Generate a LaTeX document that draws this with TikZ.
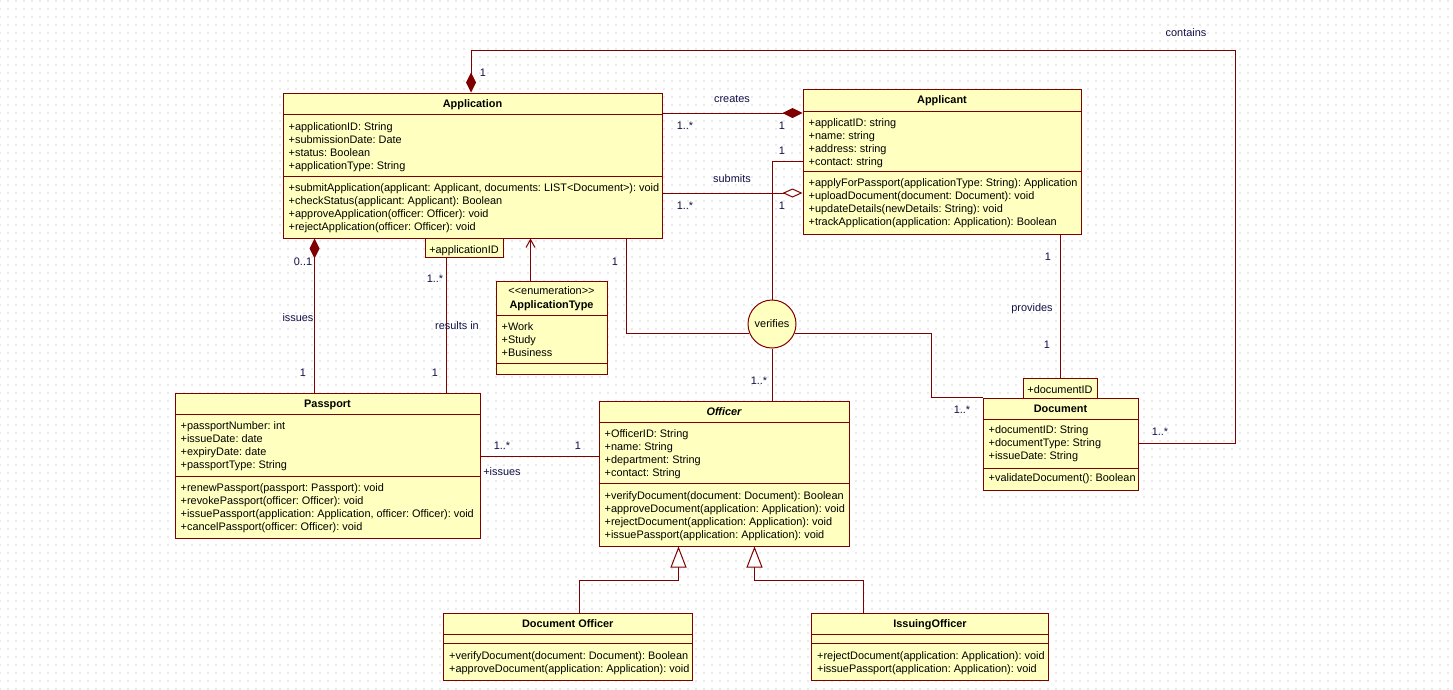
\documentclass[tikz,border=0pt]{standalone}
\usepackage{fontspec}
\setmainfont{Liberation Sans}
\usetikzlibrary{arrows.meta,calc,fit,patterns.meta}
\frenchspacing

\definecolor{umlborder}{RGB}{128,0,0}
\definecolor{umlfill}{RGB}{255,255,192}
\definecolor{umllabel}{RGB}{16,16,72}
\definecolor{griddot}{RGB}{165,165,165}

\newcommand\umlfont{\fontsize{10.9}{13}\selectfont}

\tikzset{
  cls/.style={rectangle, draw=umlborder, fill=umlfill, line width=1pt, inner sep=0pt},
  sepline/.style={draw=umlborder, line width=1pt},
  clstitle/.style={font=\umlfont\bfseries, anchor=base, inner sep=0pt},
  member/.style={font=\umlfont, anchor=base west, inner sep=0pt, text=black},
  lbl/.style={font=\umlfont, text=umllabel, inner sep=0pt, text height=8pt, text depth=2pt},
  assoc/.style={draw=umlborder, line width=1pt},
  composition/.style={assoc, -{Diamond[length=20pt,width=10pt]}},
  aggregation/.style={assoc, -{Diamond[length=20pt,width=9pt,fill=white]}},
  generalization/.style={assoc, -{Triangle[length=21pt,width=16pt,fill=white]}},
  navigable/.style={assoc, -{Straight Barb[length=8pt,width=9pt]}},
}

% class box: name, x1, y1, x2, y2, title separator offset, attribute separator offset, title
\newcommand\umlclass[8]{%
  \node[cls, fit={(#2,#3) (#4,#5)}] (#1) {};
  \draw[sepline] ($(#1.north west)+(0,#6)$) -- ($(#1.north east)+(0,#6)$);
  \draw[sepline] ($(#1.north west)+(0,#7)$) -- ($(#1.north east)+(0,#7)$);
  \node[clstitle] (#1-title) at ($(#1.north)+(0,15.3)$) {#8};
}
% compartment lines: class, name prefix, first baseline offset, list of lines
\newcommand\classmembers[4]{%
  \foreach \m [count=\i] in {#4}{
    \node[member] (#2\i) at ($(#1.north west)+(6,{#3+0.8+13*(\i-1)})$) {\m};
  }
}

\begin{document}
\begin{tikzpicture}[x=1pt,y=-1pt]
\useasboundingbox (0,0) rectangle (1453,689);
\fill[white] (0,0) rectangle (1453,689);
\fill[pattern={Dots[distance=8pt,radius=0.55pt]}, pattern color=griddot] (0,0) rectangle (1453,689);

% ---------- classes ----------
\umlclass{app}{283}{93}{662}{238}{22}{84}{Application}
\classmembers{app}{app-a}{37}{+applicationID: String, +submissionDate: Date, +status: Boolean, +applicationType: String}
\classmembers{app}{app-m}{98}{{+submitApplication(applicant: Applicant, documents: LIST<Document>): void}, +checkStatus(applicant: Applicant): Boolean, +approveApplication(officer: Officer): void, +rejectApplication(officer: Officer): void}

\umlclass{applicant}{803}{89}{1081}{234}{22.5}{83}{Applicant}
\classmembers{applicant}{apl-a}{37}{+applicatID: string, +name: string, +address: string, +contact: string}
\classmembers{applicant}{apl-m}{97.5}{+applyForPassport(applicationType: String): Application, +uploadDocument(document: Document): void, +updateDetails(newDetails: String): void, +trackApplication(application: Application): Boolean}

\umlclass{passport}{175}{393}{480}{538}{22}{83.5}{Passport}
\classmembers{passport}{pp-a}{36}{+passportNumber: int, +issueDate: date, +expiryDate: date, +passportType: String}
\classmembers{passport}{pp-m}{97.7}{+renewPassport(passport: Passport): void, +revokePassport(officer: Officer): void, {+issuePassport(application: Application, officer: Officer): void}, +cancelPassport(officer: Officer): void}

\umlclass{officer}{599}{401}{849}{546}{22}{83}{\itshape Officer}
\classmembers{officer}{of-a}{36}{+OfficerID: String, +name: String, +department: String, +contact: String}
\classmembers{officer}{of-m}{97.7}{+verifyDocument(document: Document): Boolean, +approveDocument(application: Application): void, +rejectDocument(application: Application): void, +issuePassport(application: Application): void}

\umlclass{document}{983}{398}{1138}{490}{21.5}{70.5}{Document}
\classmembers{document}{doc-a}{35.6}{+documentID: String, +documentType: String, +issueDate: String}
\classmembers{document}{doc-m}{83.3}{+validateDocument(): Boolean}

\umlclass{docOfficer}{443.5}{613}{692}{680}{22}{31}{Document Officer}
\classmembers{docOfficer}{do-m}{45.7}{+verifyDocument(document: Document): Boolean, +approveDocument(application: Application): void}

\umlclass{issOfficer}{811.5}{613}{1048.5}{680}{22}{31}{IssuingOfficer}
\classmembers{issOfficer}{io-m}{45.7}{+rejectDocument(application: Application): void, +issuePassport(application: Application): void}

% enumeration
\node[cls, fit={(496,281) (607,374)}] (apptype) {};
\draw[sepline] ($(apptype.north west)+(0,35)$) -- ($(apptype.north east)+(0,35)$);
\draw[sepline] ($(apptype.north west)+(0,83)$) -- ($(apptype.north east)+(0,83)$);
\node[member, anchor=base] (apptype-st) at ($(apptype.north)+(0,14.3)$) {<{}<enumeration>{}>};
\node[clstitle] (apptype-title) at ($(apptype.north)+(0,28)$) {ApplicationType};
\classmembers{apptype}{at-a}{48.7}{+Work, +Study, +Business}

% qualifiers
\node[cls, fit={(425,238) (503,257)}] (appQual) {};
\node[member, anchor=base] (appQual-t) at ($(appQual.south)+(0,-4)$) {+applicationID};
\node[cls, fit={(1023,378) (1097,398)}] (docQual) {};
\node[member, anchor=base] (docQual-t) at ($(docQual.south)+(0,-4.7)$) {+documentID};

% association class circle
\node[circle, draw=umlborder, fill=umlfill, line width=1pt, minimum size=48pt, inner sep=0pt, font=\umlfont] (verifies) at (772,324) {verifies};

% ---------- connectors ----------
\coordinate (crA) at ($(app.north east)+(0,20.5)$);
\draw[composition] (crA) -- (crA -| applicant.west);
\coordinate (suA) at ($(app.north east)+(0,100.5)$);
\draw[aggregation] (suA) -- (suA -| applicant.west);

\coordinate (apV) at ($(applicant.north west)+(0,72.5)$);
\draw[assoc] (apV) -| (verifies.north);
\coordinate (apB) at ($(app.south west)+(344,0)$);
\draw[assoc] (verifies.202) -| (apB);
\draw[assoc] (verifies.-22) -| ($(document.north west)+(-51,0)$) -- (document.north west);
\draw[assoc] (verifies.south) -- (verifies.south |- officer.north);

\draw[assoc] (docQual.north |- applicant.south) -- (docQual.north);

\coordinate (ctD) at ($(document.north east)+(0,46)$);
\coordinate (ctA) at ($(app.north west)+(188.5,0)$);
\coordinate (ctC) at (1235,50);
\draw[composition] (ctD) -| (ctC) -| (ctA);

\coordinate (isP) at ($(passport.north west)+(140,0)$);
\draw[composition] (isP) -- (isP |- app.south);
\coordinate (riP) at ($(passport.north west)+(272,0)$);
\draw[assoc] (riP) -- (riP |- appQual.south);

\coordinate (etE) at ($(apptype.north west)+(35,0)$);
\draw[navigable] (etE) -- (etE |- app.south);

\coordinate (poP) at ($(passport.north east)+(0,64)$);
\draw[assoc] (poP) -- (poP -| officer.west);

\draw[generalization] ($(docOfficer.north west)+(136,0)$) -- ++(0,-32) -| ($(officer.south west)+(80,0)$);
\draw[generalization] ($(issOfficer.north west)+(52,0)$) -- ++(0,-32) -| ($(officer.south west)+(156,0)$);

% ---------- labels ----------
\node[lbl] (l-contains) at (1186,33) {contains};
\node[lbl] (l-ct1) at (483,73) {1};
\node[lbl] (l-ctn) at (1160,432) {1..*};
\node[lbl] (l-creates) at (732,99) {creates};
\node[lbl] (l-cr1) at (685,126) {1..*};
\node[lbl] (l-cr2) at (782,126) {1};
\node[lbl] (l-submits) at (732,179) {submits};
\node[lbl] (l-su1) at (685,206) {1..*};
\node[lbl] (l-su2) at (782,206) {1};
\node[lbl] (l-ve1) at (782,151) {1};
\node[lbl] (l-ve2) at (615,262) {1};
\node[lbl] (l-ve3) at (962,410) {1..*};
\node[lbl] (l-ve4) at (759,381) {1..*};
\node[lbl] (l-pr1) at (1048,257) {1};
\node[lbl] (l-provides) at (1032,308) {provides};
\node[lbl] (l-pr2) at (1047,345) {1};
\node[lbl] (l-is1) at (303,262) {0..1};
\node[lbl] (l-issues) at (298,318) {issues};
\node[lbl] (l-is2) at (303,373) {1};
\node[lbl] (l-ri1) at (435,279) {1..*};
\node[lbl] (l-results) at (457,326) {results in};
\node[lbl] (l-ri2) at (435,373) {1};
\node[lbl] (l-po1) at (502,446) {1..*};
\node[lbl] (l-po2) at (578,446) {1};
\node[lbl] (l-po3) at (502,472) {+issues};
\end{tikzpicture}
\end{document}
